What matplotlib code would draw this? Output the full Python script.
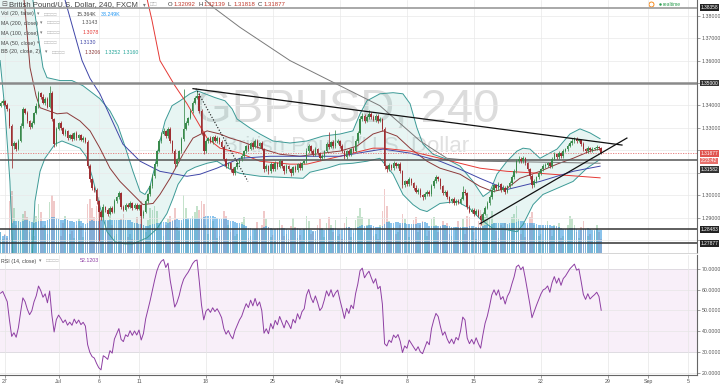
import numpy as np
import pandas as pd
import matplotlib
matplotlib.use('Agg')
import matplotlib.pyplot as plt
from matplotlib.transforms import blended_transform_factory
from matplotlib.lines import Line2D

plt.rcParams['font.family'] = ['Liberation Sans', 'DejaVu Sans']

# ---------------- data (prices in pips = price * 10000) ----------------
start_bar = -2          # bar index of first candle (bar 0 = first 4h bar of Jun 27)
first_open = 13399

close_pips = [
    13412, 13421, 13403, 13385, 13309, 13219, 13233, 13206, 13242, 13309, 13385, 13367,
    13331, 13304, 13322, 13367, 13399, 13457, 13439, 13412, 13430, 13394,
    13457, 13340, 13228, 13296, 13322, 13300, 13273, 13287, 13255, 13269,
    13251, 13278, 13255, 13269, 13246, 13255, 13237, 13130, 13071, 13035,
    13022, 12973, 12928, 12905, 12950, 12937, 12919, 12946, 12928, 12973,
    12991, 13009, 12950, 12937, 12959, 12950, 12968, 12946, 12959, 12941,
    12955, 12910, 12928, 12973, 13004, 13040, 13085, 13139, 13197, 13242,
    13273, 13287, 13264, 13296, 13242, 13197, 13139, 13161, 13197, 13251,
    13296, 13322, 13345, 13376, 13412, 13435, 13443, 13376, 13278, 13197,
    13242, 13255, 13237, 13260, 13242, 13255, 13237, 13215, 13161, 13130,
    13143, 13116, 13098, 13125, 13143, 13161, 13174, 13197, 13219, 13206,
    13233, 13215, 13242, 13219, 13233, 13206, 13116, 13130, 13107, 13139,
    13116, 13143, 13125, 13152, 13130, 13107, 13130, 13116, 13098, 13125,
    13112, 13139, 13121, 13143, 13152, 13197, 13219, 13197, 13183, 13206,
    13188, 13165, 13174, 13197, 13228, 13215, 13237, 13219, 13233, 13242,
    13219, 13197, 13170, 13197, 13183, 13206, 13197, 13242, 13278, 13340,
    13354, 13331, 13349, 13363, 13349, 13336, 13354, 13331, 13340, 13296,
    13130, 13116, 13134, 13121, 13143, 13130, 13139, 13107, 13044, 13062,
    13049, 13071, 13053, 13035, 13017, 13026, 13000, 12991, 13004, 13017,
    13004, 13040, 13062, 13080, 13071, 13040, 13009, 13017, 12991, 12973,
    12982, 12964, 12977, 12968, 12986, 13017, 13009, 12950, 12928, 12937,
    12919, 12932, 12910, 12892, 12919, 12946, 12964, 12991, 13026, 13044,
    13031, 13049, 13026, 13035, 13017, 13040, 13053, 13080, 13107, 13152,
    13161, 13152, 13165, 13143, 13116, 13085, 13044, 13062, 13080, 13098,
    13116, 13130, 13134, 13143, 13130, 13161, 13183, 13170, 13188, 13174,
    13197, 13206, 13219, 13233, 13242, 13251, 13242, 13246, 13228, 13206,
    13197, 13210, 13201, 13206, 13210, 13215, 13209, 13188,
]

wick_up = [
    6, 9, 4, 8, 5, 7, 10, 6, 8, 12, 9, 5,
    7, 4, 9, 6, 11, 8, 5, 12, 7, 6,
    31, 8, 6, 10, 5, 7, 4, 9, 6, 5,
    8, 5, 7, 4, 6, 9, 5, 11, 8, 6,
    7, 9, 5, 6, 10, 4, 8, 6, 5, 9,
    6, 12, 7, 5, 8, 6, 9, 4, 7, 5,
    8, 6, 5, 9, 7, 11, 8, 10, 6, 9,
    7, 12, 5, 9, 8, 6, 10, 7, 5, 9,
    179, 8, 6, 10, 7, 9, 23, 12, 8, 10,
    9, 6, 8, 5, 10, 7, 6, 9, 8, 5,
    7, 6, 9, 5, 8, 6, 10, 7, 5, 9,
    6, 8, 11, 7, 5, 9, 6, 8, 7, 10,
    5, 8, 6, 9, 7, 5, 10, 6, 8, 7,
    9, 6, 8, 5, 7, 12, 9, 6, 8, 10,
    7, 5, 8, 6, 9, 55, 7, 10, 60, 8,
    6, 9, 7, 5, 8, 6, 10, 9, 8, 12,
    11, 7, 9, 15, 6, 10, 8, 7, 9, 6,
    8, 6, 9, 5, 10, 7, 6, 9, 8, 7,
    6, 10, 7, 5, 9, 6, 8, 7, 10, 6,
    8, 11, 9, 12, 7, 6, 8, 9, 5, 7,
    6, 9, 5, 8, 7, 23, 10, 6, 8, 5,
    7, 9, 6, 5, 8, 7, 10, 9, 12, 8,
    7, 9, 6, 10, 8, 7, 9, 11, 10, 12,
    15, 9, 8, 6, 7, 5, 8, 9, 7, 10,
    6, 8, 9, 7, 5, 10, 8, 6, 9, 7,
    8, 6, 9, 10, 12, 8, 9, 7, 6, 8,
    7, 9, 6, 8, 7, 9, 6, 5,
]

wick_dn = [
    5, 8, 6, 9, 7, 98, 12, 8, 6, 5, 9, 7,
    8, 10, 6, 5, 7, 9, 8, 6, 10, 7,
    6, 9, 14, 7, 5, 8, 6, 9, 7, 5,
    8, 6, 7, 9, 5, 8, 6, 10, 12, 9,
    8, 11, 130, 15, 7, 9, 10, 6, 8, 5,
    7, 6, 9, 8, 5, 7, 6, 9, 8, 7,
    6, 58, 9, 7, 6, 8, 5, 9, 7, 6,
    8, 5, 9, 7, 10, 8, 15, 9, 6, 7,
    8, 6, 7, 5, 9, 6, 8, 10, 9, 12,
    7, 8, 6, 9, 5, 7, 8, 6, 10, 9,
    8, 11, 9, 6, 7, 5, 8, 6, 9, 7,
    6, 9, 5, 8, 7, 6, 12, 8, 10, 7,
    9, 6, 8, 5, 9, 11, 7, 8, 10, 6,
    8, 7, 9, 6, 5, 8, 7, 10, 9, 6,
    8, 9, 6, 7, 5, 8, 6, 7, 9, 5,
    7, 8, 10, 6, 9, 7, 8, 5, 7, 6,
    8, 9, 6, 7, 8, 6, 9, 7, 5, 8,
    14, 10, 7, 9, 6, 8, 7, 9, 12, 8,
    9, 6, 8, 10, 7, 9, 8, 11, 7, 6,
    8, 6, 7, 9, 8, 10, 7, 6, 9, 8,
    7, 9, 6, 8, 7, 6, 9, 10, 8, 7,
    9, 6, 8, 22, 7, 6, 8, 5, 7, 9,
    8, 6, 9, 7, 10, 8, 6, 7, 5, 8,
    9, 7, 8, 6, 9, 10, 12, 8, 7, 6,
    9, 7, 8, 6, 10, 7, 5, 8, 6, 7,
    8, 6, 7, 5, 8, 9, 7, 6, 8, 9,
    7, 8, 6, 7, 5, 8, 7, 6,
]

volume_k = [
    22, 15, 20, 16, 55, 66, 48, 30, 34, 24, 42, 45,
    38, 22, 25, 18, 40, 52, 44, 28, 30, 20,
    54, 62, 56, 30, 26, 18, 32, 40, 35, 20,
    24, 16, 30, 36, 29, 17, 22, 52, 58, 48,
    38, 50, 60, 45, 36, 22, 34, 40, 30, 18,
    20, 14, 36, 42, 28, 17, 20, 15, 32, 38,
    26, 55, 30, 22, 35, 48, 46, 50, 45, 30,
    25, 18, 30, 36, 40, 35, 48, 28, 24, 32,
    62, 48, 35, 30, 40, 44, 50, 46, 56, 52,
    30, 20, 28, 34, 26, 16, 18, 25, 45, 40,
    30, 22, 26, 18, 20, 28, 33, 38, 27, 16,
    18, 14, 26, 33, 25, 30, 45, 36, 28, 17,
    19, 13, 27, 35, 30, 18, 20, 15, 29, 37,
    28, 16, 19, 14, 26, 40, 34, 20, 22, 15,
    30, 36, 27, 17, 32, 38, 30, 22, 35, 18,
    20, 15, 32, 38, 28, 17, 21, 35, 40, 48,
    38, 22, 30, 36, 28, 18, 20, 15, 30, 45,
    68, 50, 34, 25, 28, 20, 22, 30, 42, 36,
    26, 17, 28, 35, 38, 22, 30, 34, 27, 18,
    24, 36, 38, 30, 22, 28, 34, 30, 32, 20,
    18, 14, 28, 34, 26, 36, 20, 40, 38, 26,
    22, 15, 34, 46, 40, 38, 42, 36, 45, 32,
    24, 16, 30, 28, 32, 24, 30, 38, 42, 50,
    36, 20, 26, 17, 30, 38, 44, 30, 26, 18,
    20, 14, 28, 34, 26, 18, 30, 28, 32, 16,
    18, 14, 30, 40, 36, 30, 22, 16, 28, 34,
    26, 18, 20, 13, 24, 30, 22, 15.364,
]

# RSI state carried in from before the window (average gain / loss, pips)
rsi_seed_gain, rsi_seed_loss = 20.0, 15.0

# indicator lines: (bar, pips)
bb_upper = [(-2.2, 15200), (5, 14600), (10, 14050), (12.5, 13869), (15, 13700), (17, 13569),
            (18.8, 13524), (24.6, 13511), (30, 13511), (34.9, 13488), (39, 13457), (42.5, 13430),
            (47, 13376), (50.6, 13309), (53.7, 13219), (57.3, 13107), (60.5, 13017), (62.7, 13004),
            (64.9, 13040), (67.2, 13130), (69.4, 13242), (71.7, 13331), (74.8, 13399), (78.4, 13421),
            (82.8, 13452), (86, 13466), (89.6, 13452), (94.1, 13435), (98.5, 13421), (101.7, 13385),
            (103.9, 13340), (105.2, 13331), (109.7, 13300), (114.2, 13273), (120, 13242),
            (127.6, 13233), (135.2, 13242), (142.4, 13264), (150, 13273), (155.8, 13287),
            (159, 13363), (162.1, 13421), (167.9, 13452), (173.8, 13457), (178.2, 13452),
            (181.4, 13408), (184.5, 13300), (187.2, 13228), (191.7, 13183), (197.9, 13161),
            (203.8, 13130), (209.6, 13062), (214.1, 12995), (217.2, 13017), (220.3, 13094),
            (224.8, 13152), (229.3, 13197), (232, 13210), (235.1, 13206), (239.6, 13165),
            (247.2, 13206), (253, 13273), (257.5, 13296), (262, 13278), (266.5, 13252)]
bb_basis = [(-2.2, 14250), (4.5, 14120), (7.6, 13950), (8.9, 13838), (11.2, 13569), (13.9, 13443),
            (15.7, 13390), (23.3, 13363), (27.8, 13367), (33.6, 13331), (38.1, 13287), (42.5, 13210),
            (47, 13121), (51.5, 13062), (57.3, 13004), (61.8, 12959), (66.3, 12964), (69.4, 13004),
            (73.9, 13076), (79.7, 13183), (84.2, 13255), (90.5, 13287), (96.3, 13273), (100.8, 13255),
            (105.2, 13242), (114.2, 13210), (123.2, 13183), (132.1, 13174), (142.4, 13188),
            (150, 13197), (157.6, 13219), (164.8, 13273), (169.3, 13287), (175.5, 13264),
            (181.4, 13210), (189, 13152), (194.8, 13121), (203.8, 13094), (212.7, 13040),
            (218.5, 13017), (224.8, 13031), (230.6, 13076), (239.6, 13107), (247.2, 13139),
            (254.4, 13165), (262, 13197), (266.5, 13206)]
bb_lower = [(-2.2, 13600), (0, 13376), (2.2, 13062), (3.6, 12704), (6.7, 12435), (10.3, 12435),
            (12.1, 12704), (13.4, 12973), (15.7, 13107), (17.9, 13165), (22.4, 13228), (25.5, 13242),
            (29.1, 13228), (33.6, 13210), (36.3, 13174), (39, 13085), (42.5, 12950), (45.7, 12838),
            (49.3, 12793), (53.7, 12784), (57.3, 12784), (63.6, 12811), (68.1, 12852), (72.5, 12919),
            (75.2, 12986), (77.5, 13049), (81.5, 13107), (85.1, 13125), (90.5, 13143), (94.9, 13152),
            (100.8, 13116), (105.2, 13098), (114.2, 13085), (124.5, 13080), (133.5, 13076),
            (136.6, 13103), (144.2, 13121), (150, 13139), (155.8, 13143), (162.1, 13152),
            (167.9, 13165), (173.8, 13094), (178.2, 13004), (182.7, 12959), (185.9, 12937),
            (189, 12928), (194.8, 12964), (202.4, 12973), (208.2, 12941), (212.7, 12896),
            (218.5, 12852), (224.8, 12847), (229.3, 12838), (232, 12870), (236.5, 12959),
            (240.9, 13004), (247.2, 13031), (254.4, 13062), (260.6, 13121), (266.5, 13160)]
ma50 = [(23.7, 13959), (26.9, 13869), (31.3, 13713), (34.5, 13600), (38.1, 13520), (42.5, 13452),
        (47, 13354), (52.8, 13228), (60.5, 13152), (69.4, 13107), (81.5, 13085), (87.3, 13094),
        (94.9, 13121), (105.2, 13165), (118.7, 13174), (132.1, 13174), (150, 13174), (163.5, 13197),
        (169.3, 13206), (181.4, 13188), (194.8, 13152), (203.8, 13116), (212.7, 13076),
        (224.8, 13026), (239.6, 13062), (254.4, 13107), (266.5, 13130)]
ma100 = [(62.7, 13914), (65.8, 13780), (69.4, 13600), (76.1, 13488), (81.5, 13408), (87.3, 13309),
         (90.5, 13255), (96.3, 13210), (105.2, 13188), (114.2, 13152), (127.6, 13139),
         (135.2, 13139), (150, 13174), (164.8, 13210), (169.3, 13210), (181.4, 13197),
         (194.8, 13165), (212.7, 13121), (224.8, 13107), (239.6, 13098), (266.5, 13078)]
ma200 = [(87.3, 13892), (93.1, 13838), (105.2, 13748), (127.6, 13600), (150, 13488),
         (167.9, 13399), (185.9, 13242), (197.9, 13165), (212.7, 13152), (239.6, 13148),
         (266.5, 13143)]

trend_down = [(84.2, 1.3475), (276.3, 1.3224)]
trend_up = [(212.7, 1.2874), (278.5, 1.3255)]
dotted_line = [(85.5, 1.3475), (108.8, 1.3062)]

levels = [1.38358, 1.35000, 1.31582, 1.28483, 1.27877]
last_price = 1.31877

date_ticks = [0, 24, 42, 60, 90, 120, 150, 180, 210, 240, 270, 288, 306]
date_labels = ['27', 'Jul', '6', '11', '18', '25', 'Aug', '8', '15', '22', '29', 'Sep', '5']
price_ticks = [1.28, 1.29, 1.30, 1.31, 1.32, 1.33, 1.34, 1.35, 1.36, 1.37, 1.38]
price_labels = ['', '1.29000', '1.30000', '', '', '1.33000', '1.34000', '', '1.36000',
                '1.37000', '1.38000']   # the rest sit under the level boxes
rsi_ticks = [20, 30, 40, 50, 60, 70]

# ---------------- derived ----------------
n = len(close_pips)
bars = np.arange(n) + start_bar
close = np.array(close_pips, dtype=float) / 1e4
open_ = np.concatenate([[first_open / 1e4], close[:-1]])
body_lo = np.minimum(open_, close)
body_hi = np.maximum(open_, close)
high = body_hi + np.array(wick_up) / 1e4
low = body_lo - np.array(wick_dn) / 1e4
is_up = close >= open_
vol = np.array(volume_k, dtype=float)
vol_ma = pd.Series(vol).rolling(20, min_periods=1).mean().values

# Wilder RSI(14)
diff = np.diff(np.concatenate([[first_open / 1e4], close])) * 1e4
ag, al = rsi_seed_gain, rsi_seed_loss
rsi = []
for d in diff:
    ag = (ag * 13 + max(d, 0)) / 14
    al = (al * 13 + max(-d, 0)) / 14
    rsi.append(100 - 100 / (1 + ag / al))
rsi = np.array(rsi)

def xy(pts, scale=1e4):
    a = np.array(pts, dtype=float)
    return a[:, 0], a[:, 1] / scale

# ---------------- figure ----------------
W, H = 720, 384
fig = plt.figure(figsize=(7.2, 3.84), dpi=100)
fig.patch.set_facecolor('white')
fx = lambda px: px / W
fy = lambda py: 1 - py / H

XL = (-2.24, 309.9)
YL = (1.27435, 1.38695)

ax = fig.add_axes([0, fy(253), fx(697), 253 / H])
axv = ax.twinx()
ax.set_zorder(3)
axv.set_zorder(2)
ax.patch.set_visible(False)
axv.patch.set_facecolor('white')

ax.set_xlim(*XL)
ax.set_ylim(*YL)
axv.set_ylim(0, 270)
axv.set_yticks([])
for s in axv.spines.values():
    s.set_visible(False)

# watermark
axv.text(0.498, 1 - 110 / 253, 'GBPUSD, 240', transform=axv.transAxes, ha='center',
         va='center', fontsize=34, color='#dcdcdc', zorder=0)
axv.text(0.496, 1 - 147 / 253, 'British Pound/U.S. Dollar', transform=axv.transAxes,
         ha='center', va='center', fontsize=16, color='#e0e0e0', zorder=0)

# volume
vcol = np.where(is_up, '#c4e2cb', '#f0c9c9')
axv.bar(bars, vol, width=0.75, color=vcol, lw=0, zorder=2)
axv.bar(bars, vol_ma, width=0.75, color='#3d9be0', alpha=0.6, lw=0, zorder=3)

# grid
ax.set_xticks(date_ticks)
ax.set_yticks(price_ticks)
ax.grid(True, color='#e9e9e9', lw=0.5, zorder=0)
ax.tick_params(axis='x', length=0, labelbottom=False)
ax.yaxis.tick_right()
ax.set_yticklabels(price_labels)
ax.tick_params(axis='y', length=2, width=0.5, color='#777', labelsize=3.8,
               labelcolor='#555', pad=1.5)
for k in ['left', 'top']:
    ax.spines[k].set_visible(False)
ax.spines['right'].set_color('#666')
ax.spines['right'].set_linewidth(0.8)
ax.spines['bottom'].set_color('#cfcfcf')
ax.spines['bottom'].set_linewidth(0.6)

# Bollinger fill + lines
ux, uy = xy(bb_upper)
lx, ly = xy(bb_lower)
ax.fill(np.r_[ux, lx[::-1]], np.r_[uy, ly[::-1]], color='#26a69a', alpha=0.11, lw=0, zorder=1)
ax.plot(ux, uy, color='#3c9a96', lw=0.7, zorder=2)
ax.plot(lx, ly, color='#3c9a96', lw=0.7, zorder=2)
bx, by = xy(bb_basis)
ax.plot(bx, by, color='#8c3a3a', lw=0.7, zorder=2)
for pts, c in [(ma200, '#7a7a7a'), (ma100, '#e53935'), (ma50, '#3f46a8')]:
    mx, my = xy(pts)
    ax.plot(mx, my, color=c, lw=0.7, zorder=2)

# horizontal levels
ax.axhline(levels[0], color='#9a9a9a', lw=1.2, zorder=3)
ax.axhline(levels[1], color='#8a8a8a', lw=1.8, zorder=3)
ax.axhline(levels[2], color='#555555', lw=1.1, zorder=3)
ax.axhline(levels[3], color='#333333', lw=1.1, zorder=3)
ax.axhline(levels[4], color='#333333', lw=1.1, zorder=3)
ax.axhline(last_price, color='#e57373', lw=0.6, ls=(0, (1.5, 1.5)), zorder=3)

# candles
ccol = np.where(is_up, '#3a8a4c', '#9e2f33')
ax.vlines(bars, low, high, colors=ccol, lw=0.55, zorder=5)
ax.bar(bars, np.maximum(body_hi - body_lo, 0.00004), bottom=body_lo, width=0.7,
       color=ccol, lw=0, zorder=6)

# drawings
for pts, ls, lw in [(trend_down, '-', 0.9), (trend_up, '-', 0.9), (dotted_line, ':', 0.8)]:
    a = np.array(pts)
    ax.plot(a[:, 0], a[:, 1], color='#111', lw=lw, ls=ls, zorder=7)

# right price boxes
bt = blended_transform_factory(ax.transAxes, ax.transData)
def pbox(price, text, fc, dy_px=0):
    ax.annotate(text, xy=(1.0, price), xycoords=bt, xytext=(2.5, -dy_px * 0.72),
                textcoords='offset points', ha='left', va='center', fontsize=3.5,
                color='white', annotation_clip=False, zorder=10,
                bbox=dict(boxstyle='square,pad=0.2', fc=fc, ec='none'))
pbox(levels[0], '1.38358', '#222222')
pbox(levels[1], '1.35000', '#333333')
pbox(last_price, '1.31877', '#e0534f')
pbox(last_price, '2:23:42', '#e8706c', dy_px=7.8)
pbox(levels[2], '1.31582', '#333333', dy_px=9.5)
pbox(levels[3], '1.28483', '#222222')
pbox(levels[4], '1.27877', '#222222')

# ---------------- RSI panel ----------------
axr = fig.add_axes([0, fy(375), fx(697), 120 / H], sharex=ax)
axr.set_ylim(18.9, 76.75)
axr.axhspan(30, 70, color='#9c27b0', alpha=0.07, lw=0, zorder=0)
axr.axhline(70, color='#bfaecb', lw=0.5, zorder=1)
axr.axhline(30, color='#bfaecb', lw=0.5, zorder=1)
axr.plot(bars, rsi, color='#8e3fa3', lw=0.7, zorder=3)
axr.set_yticks(rsi_ticks)
axr.set_yticklabels(['%.4f' % v for v in rsi_ticks])
axr.yaxis.tick_right()
axr.set_xticks(date_ticks)
axr.set_xticklabels(date_labels)
axr.grid(True, color='#e6e6e6', lw=0.5, zorder=0)
axr.tick_params(axis='y', length=2, width=0.5, color='#777', labelsize=3.8,
                labelcolor='#555', pad=1.5)
axr.tick_params(axis='x', length=2, width=0.5, color='#777', labelsize=3.8,
                labelcolor='#555', pad=1)
axr.set_xlim(*XL)
for k in ['left', 'top']:
    axr.spines[k].set_visible(False)
for k in ['right', 'bottom']:
    axr.spines[k].set_color('#666')
    axr.spines[k].set_linewidth(0.8)

# ---------------- legend texts ----------------
def t(px, py, s, size=3.8, color='#444', **kw):
    fig.text(fx(px), fy(py), s, fontsize=size, color=color, ha='left', va='center',
             zorder=20, **kw)

icon = '#b5b5b5'
t(1, 5, '\u229f', 5.0, '#666')
t(9, 5, 'British Pound/U.S. Dollar, 240, FXCM', 5.6, '#444')
t(143, 5, '\u25be', 4.0, '#777')
t(150, 5, '\u25a1\u25a1', 4.5, icon)
for lx_, lab, val in [(168, 'O', '1.32092'), (198, 'H', '1.32139'),
                      (228, 'L', '1.31818'), (258, 'C', '1.31877')]:
    t(lx_, 5, lab, 4.3, '#333')
    t(lx_ + 5.5, 5, val, 4.3, '#c0392b')

rows = [
    (14, 'Vol (20, false)', 37, [(77, '15.364K', '#444'), (101, '33.249K', '#2196f3')]),
    (23, 'MA (200, close)', 40, [(82, '1.3143', '#555')]),
    (33, 'MA (100, close)', 40, [(83, '1.3078', '#e53935')]),
    (43, 'MA (50, close)', 37, [(80, '1.3130', '#3f46a8')]),
    (52, 'BB (20, close, 2)', 45, [(85, '1.3206', '#8c3a3a'), (105, '1.3252', '#26a69a'),
                                  (123, '1.3160', '#26a69a')]),
]
for py, name, arrow_x, vals in rows:
    t(1, py, name, 3.8, '#444')
    t(arrow_x, py, '\u25be', 3.4, '#777')
    t(arrow_x + 7, py, '\u25a1\u25a1\u25a1\u25a1', 3.8, icon)
    for vx, vs, vc in vals:
        t(vx, py, vs, 3.8, vc)

t(1, 261, 'RSI (14, close)', 3.8, '#444')
t(39, 261, '\u25be', 3.4, '#777')
t(46, 261, '\u25a1\u25a1\u25a1\u25a1', 3.8, icon)
t(80, 261, '52.1203', 3.8, '#8e3fa3')

# realtime indicator
fig.add_artist(Line2D([fx(651)], [fy(4)], marker='o', markersize=3.6, mfc='none',
                      mec='#f57c00', mew=0.6, transform=fig.transFigure))
fig.add_artist(Line2D([fx(660)], [fy(4)], marker='o', markersize=1.8, mfc='#2e9e52',
                      mec='none', transform=fig.transFigure))
t(663, 4, 'realtime', 3.6, '#2e9e52')

fig.savefig('out.png', dpi=100)
